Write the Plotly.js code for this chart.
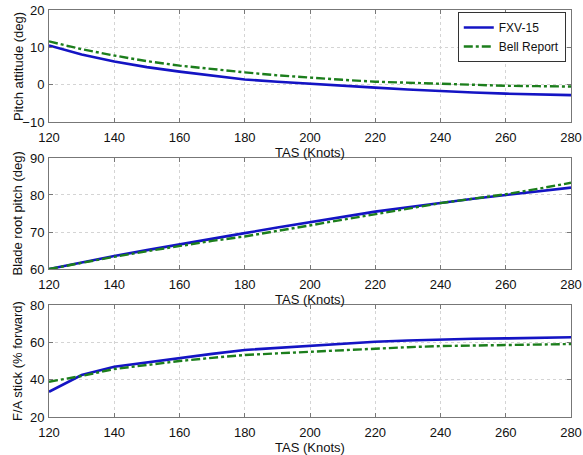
<!DOCTYPE html>
<html>
<head>
<meta charset="utf-8">
<script src="https://cdn.plot.ly/plotly-3.0.1.min.js"></script>
<style>html,body{margin:0;padding:0;background:#fff;}#chart{width:583px;height:455px;}</style>
</head>
<body>
<div id="chart"></div>
<script>
var tas = [120, 130, 140, 150, 160, 170, 180, 190, 200, 210, 220, 230, 240, 250, 260, 270, 280];

var pitchFXV  = [10.5, 8.1, 6.2, 4.7, 3.5, 2.4, 1.4, 0.8, 0.2, -0.3, -0.8, -1.3, -1.8, -2.1, -2.4, -2.6, -2.8];
var pitchBell = [11.6, 9.5, 7.8, 6.3, 5.1, 4.1, 3.3, 2.5, 1.8, 1.3, 0.8, 0.5, 0.2, -0.1, -0.3, -0.4, -0.5];

var bladeFXV  = [60.0, 61.8, 63.5, 65.1, 66.7, 68.2, 69.7, 71.2, 72.7, 74.1, 75.5, 76.7, 77.9, 79.0, 80.0, 81.0, 82.0];
var bladeBell = [60.0, 61.7, 63.3, 64.8, 66.3, 67.6, 68.8, 70.3, 71.9, 73.5, 75.0, 76.4, 77.8, 79.0, 80.2, 81.7, 83.3];

var stickFXV  = [33.5, 42.5, 46.9, 49.3, 51.4, 53.8, 55.9, 57.1, 58.2, 59.3, 60.3, 61.0, 61.6, 61.9, 62.1, 62.4, 62.7];
var stickBell = [38.9, 42.0, 45.7, 48.0, 50.0, 51.7, 53.2, 54.1, 55.0, 56.0, 56.8, 57.4, 58.0, 58.3, 58.6, 58.9, 59.1];

var xTicks = [120, 140, 160, 180, 200, 220, 240, 260, 280];
var yTicks1 = [-10, 0, 10, 20];
var yTicks2 = [60, 70, 80, 90];
var yTicks3 = [20, 40, 60, 80];

var seriesNames = ['FXV-15', 'Bell Report'];
var yTitles = ['Pitch attitude (deg)', 'Blade root pitch (deg)', 'F/A stick (% forward)'];
var xTitle = 'TAS (Knots)';

var blue = '#1414c4';
var green = '#1c7e1c';

function fxv(y, ax, show) {
  return {x: tas, y: y, xaxis: 'x' + ax, yaxis: 'y' + ax, type: 'scatter', mode: 'lines',
    name: seriesNames[0], showlegend: show, line: {color: blue, width: 2.6}};
}
function bell(y, ax, show) {
  return {x: tas, y: y, xaxis: 'x' + ax, yaxis: 'y' + ax, type: 'scatter', mode: 'lines',
    name: seriesNames[1], showlegend: show, line: {color: green, width: 2.4, dash: 'dashdot'}};
}

var data = [
  fxv(pitchFXV, '', true), bell(pitchBell, '', true),
  fxv(bladeFXV, '2', false), bell(bladeBell, '2', false),
  fxv(stickFXV, '3', false), bell(stickBell, '3', false)
];

var font = {family: 'Liberation Sans, Arial, sans-serif', size: 13, color: '#111'};

function xax(anchor) {
  return {anchor: anchor, range: [120, 280], tickvals: xTicks, showline: true, mirror: 'ticks',
    linecolor: '#777', linewidth: 1, ticks: 'inside', ticklen: 4, tickcolor: '#777',
    showgrid: true, gridcolor: '#d4d4d4', griddash: 'dot', gridwidth: 1, zeroline: false,
    tickfont: {size: 13}, ticklabelstandoff: 3, title: {text: xTitle, font: {size: 13}, standoff: 0}};
}
function yax(anchor, domain, range, ticks) {
  return {anchor: anchor, domain: domain, range: range, tickvals: ticks, showline: true, mirror: 'ticks',
    linecolor: '#777', linewidth: 1, ticks: 'inside', ticklen: 4, tickcolor: '#777',
    showgrid: true, gridcolor: '#d4d4d4', griddash: 'dot', gridwidth: 1, zeroline: false,
    tickfont: {size: 13}, ticklabelstandoff: 1};
}

function ytitle(text, yref) {
  return {text: text, xref: 'paper', x: -0.0594, xanchor: 'center', yref: yref, y: 0.5,
    yanchor: 'middle', textangle: -90, showarrow: false, font: {size: 13}};
}

var layout = {
  width: 583, height: 455,
  margin: {l: 49, r: 12, t: 10, b: 38},
  paper_bgcolor: '#fff', plot_bgcolor: '#fff',
  font: font,
  showlegend: true,
  legend: {x: 0.99, y: 0.995, xanchor: 'right', yanchor: 'top', xref: 'paper', yref: 'paper',
    bgcolor: '#fff', bordercolor: '#333', borderwidth: 1, font: {size: 12},
    tracegroupgap: 0, itemwidth: 30},
  xaxis: xax('y'),
  yaxis: yax('x', [0.7248, 1], [-10, 20], yTicks1),
  xaxis2: xax('y2'),
  yaxis2: yax('x2', [0.3636, 0.6364], [60, 90], yTicks2),
  xaxis3: xax('y3'),
  yaxis3: yax('x3', [0, 0.2752], [20, 80], yTicks3),
  annotations: [ytitle(yTitles[0], 'y domain'), ytitle(yTitles[1], 'y2 domain'), ytitle(yTitles[2], 'y3 domain')]
};

Plotly.newPlot('chart', data, layout, {displayModeBar: false, staticPlot: true});
</script>
</body>
</html>
